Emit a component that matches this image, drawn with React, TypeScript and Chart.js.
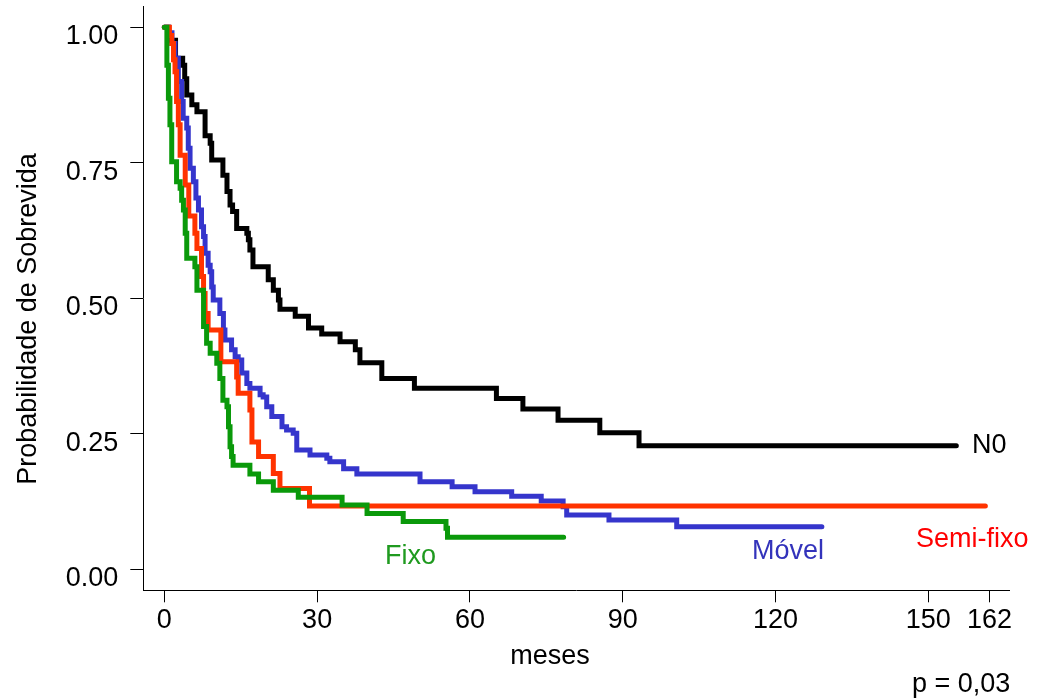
import React, { useEffect, useRef } from "react";
import { Chart, registerables } from "chart.js";

Chart.register(...registerables);

// ---- data ----
const xTickValues = [0, 30, 60, 90, 120, 150, 162];
const yTickValues = [0, 0.25, 0.5, 0.75, 1];

const seriesNames = ["N0", "Semi-fixo", "Móvel", "Fixo"];

const n0Times = [0, 0.8, 2.2, 3.6, 4.0, 4.4, 5.4, 6.4, 8.0, 9.0, 9.3, 11.5, 12.3, 12.9, 13.4, 14.2, 16.2, 16.5, 16.8, 17.4, 20.4, 21.4, 22.4, 22.7, 25.7, 28.3, 30.9, 34.5, 37.5, 38.4, 42.7, 49.1, 65.2, 70.4, 77.3, 85.5, 93.2, 155.5];
const n0Surv = [1.0, 0.976, 0.943, 0.93, 0.905, 0.875, 0.857, 0.844, 0.8, 0.786, 0.755, 0.727, 0.697, 0.672, 0.66, 0.629, 0.62, 0.608, 0.589, 0.558, 0.534, 0.515, 0.497, 0.48, 0.467, 0.445, 0.434, 0.42, 0.405, 0.381, 0.352, 0.334, 0.315, 0.296, 0.275, 0.252, 0.228, 0.228];

const semiTimes = [0, 1.0, 1.45, 1.8, 2.1, 2.4, 2.75, 3.1, 4.1, 4.8, 6.0, 6.4, 7.3, 7.7, 8.0, 8.6, 11.1, 14.2, 14.5, 16.8, 17.2, 18.5, 21.4, 22.7, 28.5, 161.2];
const semiSurv = [1.0, 0.985, 0.97, 0.94, 0.918, 0.863, 0.82, 0.764, 0.709, 0.652, 0.62, 0.592, 0.54, 0.509, 0.472, 0.4415, 0.383, 0.355, 0.325, 0.294, 0.235, 0.208, 0.177, 0.149, 0.117, 0.117];

const movelTimes = [0, 0.8, 1.5, 2.1, 2.75, 3.4, 3.7, 4.4, 4.7, 5.05, 5.7, 6.2, 6.7, 7.3, 7.7, 8.0, 8.6, 9.0, 9.3, 9.6, 10.9, 11.6, 11.9, 13.2, 13.9, 14.5, 15.2, 16.2, 16.8, 18.8, 19.4, 20.1, 21.1, 23.1, 24.0, 25.3, 26.0, 28.6, 31.9, 32.5, 35.2, 37.8, 50.2, 56.5, 61.0, 68.2, 74.0, 78.3, 79.0, 87.3, 100.6, 129.1];
const movelSurv = [1.0, 0.99, 0.97, 0.943, 0.9, 0.863, 0.832, 0.814, 0.777, 0.74, 0.715, 0.685, 0.663, 0.632, 0.614, 0.583, 0.561, 0.549, 0.521, 0.497, 0.472, 0.4415, 0.423, 0.405, 0.392, 0.386, 0.362, 0.343, 0.334, 0.322, 0.318, 0.3, 0.282, 0.263, 0.257, 0.251, 0.22, 0.211, 0.205, 0.1985, 0.1855, 0.176, 0.1616, 0.1524, 0.143, 0.135, 0.126, 0.1155, 0.1, 0.091, 0.0786, 0.0786];

const fixoTimes = [0, 0.5, 0.8, 1.1, 1.45, 2.4, 3.1, 3.4, 3.75, 4.1, 4.4, 6.0, 6.4, 7.7, 8.3, 9.0, 10.3, 10.9, 11.5, 12.3, 12.6, 12.9, 13.2, 13.5, 16.8, 18.5, 21.4, 26.3, 34.9, 39.8, 46.9, 55.3, 55.6, 78.4];
const fixoSurv = [1.0, 0.93, 0.869, 0.82, 0.752, 0.715, 0.703, 0.681, 0.663, 0.62, 0.574, 0.558, 0.515, 0.448, 0.417, 0.3985, 0.38, 0.352, 0.312, 0.3, 0.263, 0.226, 0.208, 0.192, 0.176, 0.1616, 0.146, 0.133, 0.1186, 0.103, 0.088, 0.076, 0.059, 0.059];

const toPoints = (t: number[], s: number[]) => t.map((x, i) => ({ x, y: s[i] }));

const FONT = 'Arial, "Liberation Sans", sans-serif';

const textPlugin = {
  id: "kmTexts",
  afterDraw(chart: any) {
    const c = chart.ctx as CanvasRenderingContext2D;
    c.save();
    c.textBaseline = "middle";
    c.textAlign = "left";
    c.font = `27px ${FONT}`;
    c.fillStyle = "#000000";
    c.fillText(seriesNames[0], 972, 446);
    c.fillStyle = "#ff0000";
    c.fillText(seriesNames[1], 916, 540);
    c.fillStyle = "#3333bb";
    c.fillText(seriesNames[2], 752, 552);
    c.fillStyle = "#1f9a1f";
    c.fillText(seriesNames[3], 385, 557);
    c.fillStyle = "#000000";
    c.fillText("p = 0,03", 912, 685);
    c.textAlign = "center";
    c.fillText("meses", 550, 657);
    c.translate(29, 319);
    c.rotate(-Math.PI / 2);
    c.fillText("Probabilidade de Sobrevida", 0, 0);
    c.restore();
  },
};

const zeroPadding = (s: any) => {
  s.paddingTop = 0;
  s.paddingBottom = 0;
  s.paddingLeft = 0;
  s.paddingRight = 0;
};

export default function App() {
  const ref = useRef<HTMLCanvasElement>(null);
  useEffect(() => {
    const canvas = ref.current;
    if (!canvas) return;
    const common = {
      pointRadius: 0,
      borderWidth: 5,
      stepped: "before" as const,
      fill: false,
      borderCapStyle: "round" as const,
      borderJoinStyle: "miter" as const,
    };
    const chart = new Chart(canvas, {
      type: "line",
      data: {
        datasets: [
          { ...common, label: seriesNames[3], data: toPoints(fixoTimes, fixoSurv), borderColor: "#0a990a", order: 1 },
          { ...common, label: seriesNames[1], data: toPoints(semiTimes, semiSurv), borderColor: "#ff3300", order: 2 },
          { ...common, label: seriesNames[2], data: toPoints(movelTimes, movelSurv), borderColor: "#3535cc", order: 3 },
          { ...common, label: seriesNames[0], data: toPoints(n0Times, n0Surv), borderColor: "#000000", order: 4 },
        ],
      },
      options: {
        responsive: false,
        devicePixelRatio: 1,
        animation: false,
        layout: { padding: { left: 0, top: 6.3, right: 32.7, bottom: 0 } },
        plugins: { legend: { display: false }, tooltip: { enabled: false } },
        scales: {
          x: {
            type: "linear",
            min: -4.13,
            max: 165.9,
            afterBuildTicks: (s: any) => {
              s.ticks = xTickValues.map((v) => ({ value: v }));
            },
            afterFit: (s: any) => {
              s.height = 109.7;
              zeroPadding(s);
            },
            grid: { display: true, drawOnChartArea: false, drawTicks: true, tickLength: 12, color: "#000", lineWidth: 1 },
            border: { display: true, color: "#000", width: 1 },
            ticks: {
              color: "#000",
              font: { family: FONT, size: 27 },
              padding: 2,
              maxRotation: 0,
              autoSkip: false,
              callback: (v: any) => String(v),
            },
          },
          y: {
            type: "linear",
            min: -0.0387,
            max: 1.0387,
            afterBuildTicks: (s: any) => {
              s.ticks = yTickValues.map((v) => ({ value: v }));
            },
            afterFit: (s: any) => {
              s.width = 143.3;
              zeroPadding(s);
            },
            grid: { display: true, drawOnChartArea: false, drawTicks: true, tickLength: 13, color: "#000", lineWidth: 1 },
            border: { display: true, color: "#000", width: 1 },
            ticks: {
              color: "#000",
              font: { family: FONT, size: 27 },
              padding: 12,
              labelOffset: 9.5,
              autoSkip: false,
              callback: (v: any) => Number(v).toFixed(2),
            },
          },
        },
      },
      plugins: [textPlugin],
    });
    return () => chart.destroy();
  }, []);
  return (
    <div style={{ position: "fixed", left: 0, top: 0, width: 1042, height: 700, background: "#fff" }}>
      <canvas ref={ref} width={1042} height={700} style={{ display: "block", width: 1042, height: 700 }} />
    </div>
  );
}
